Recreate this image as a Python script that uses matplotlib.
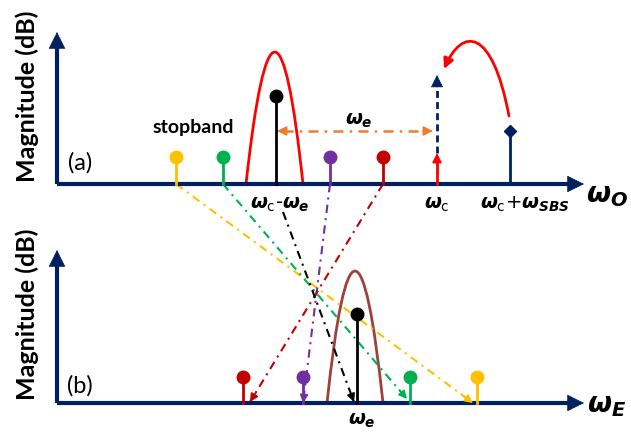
import matplotlib.pyplot as plt
from matplotlib.path import Path
from matplotlib.patches import PathPatch, FancyArrowPatch

plt.rcParams['mathtext.fontset'] = 'custom'
plt.rcParams['mathtext.it'] = 'DejaVu Sans:italic:bold'
plt.rcParams['mathtext.rm'] = 'DejaVu Sans'
plt.rcParams['mathtext.bf'] = 'DejaVu Sans:bold'

navy = '#002060'

# schematic positions (pixel space of the 631x438 drawing)
tone_colors = ['#FFC000', '#00B050', '#7030A0', '#C00000']
top_tone_x = [176, 223, 330, 383]
bottom_tone_x = [477, 410, 303, 243]
map_end_x = [473, 407, 303, 250]
map_end_y = [403, 399, 403, 402]
top_base, bottom_base = 184, 403
tone_head_top, tone_head_bottom = 157, 377

top_peak = (246, 275, 303, 52)      # left, center, right, peak
bottom_peak = (327, 355, 383, 271)
signal_top = (276, 96)
signal_bottom = (357, 314)
carrier_x, carrier_arrow_top, carrier_dash_top = 437, 153, 75
sbs_x, sbs_top = 510, 131

fig = plt.figure(figsize=(6.31, 4.38), dpi=100)
ax = fig.add_axes([0, 0, 1, 1])
ax.set_xlim(0, 631)
ax.set_ylim(438, 0)
ax.axis('off')


def head(x0, y0, x1, y1, color, scale=13):
    ax.annotate('', xy=(x1, y1), xytext=(x0, y0),
                arrowprops=dict(arrowstyle='-|>', color=color, lw=1.2,
                                mutation_scale=scale, shrinkA=0, shrinkB=0))


def dashdot(x0, y0, x1, y1, color, arrow_end=True):
    ax.plot([x0, x1], [y0, y1], color=color, lw=1.5,
            dashes=(4, 2.5, 1, 2.5), solid_capstyle='butt')
    if arrow_end:
        f = 0.04
        head(x1 - (x1 - x0) * f, y1 - (y1 - y0) * f, x1, y1, color, 12)


def axes_arrows(base, top):
    ax.plot([57, 570], [base, base], color=navy, lw=3, solid_capstyle='butt')
    ax.plot([57, 57], [base, top + 14], color=navy, lw=3, solid_capstyle='butt')
    ax.annotate('', xy=(584, base), xytext=(560, base),
                arrowprops=dict(arrowstyle='-|>', color=navy, lw=0.5,
                                mutation_scale=28, shrinkA=0, shrinkB=0))
    ax.annotate('', xy=(57, top), xytext=(57, top + 24),
                arrowprops=dict(arrowstyle='-|>', color=navy, lw=0.5,
                                mutation_scale=28, shrinkA=0, shrinkB=0))


def hump(spec, base, color):
    left, center, right, peak = spec
    ctrl = 2 * peak - base
    p = Path([(left, base), (center, ctrl), (right, base)],
             [Path.MOVETO, Path.CURVE3, Path.CURVE3])
    ax.add_patch(PathPatch(p, fill=False, edgecolor=color, lw=2))


# mapping lines (drawn first, under everything)
for x0, x1, y1, c in zip(top_tone_x, map_end_x, map_end_y, tone_colors):
    dashdot(x0, top_base, x1, y1, c)
dashdot(283, 212, 354, 402, 'black')

axes_arrows(top_base, 32)
axes_arrows(bottom_base, 250)

# top panel
hump(top_peak, top_base, '#FF0000')
for x, c in zip(top_tone_x, tone_colors):
    ax.plot([x, x], [top_base, tone_head_top], color=c, lw=2)
    ax.plot(x, tone_head_top, 'o', color=c, ms=9)
ax.plot([signal_top[0]] * 2, [top_base, signal_top[1]], color='black', lw=2)
ax.plot(*signal_top, 'o', color='black', ms=9)

# carrier
ax.plot([carrier_x, carrier_x], [top_base, carrier_arrow_top + 8], color='#FF0000', lw=2)
head(carrier_x, carrier_arrow_top + 10, carrier_x, carrier_arrow_top, '#FF0000', 14)
ax.plot([carrier_x, carrier_x], [carrier_arrow_top, carrier_dash_top + 10], color=navy,
        lw=2, dashes=(2.5, 1.5))
ax.annotate('', xy=(carrier_x, carrier_dash_top), xytext=(carrier_x, carrier_dash_top + 12),
            arrowprops=dict(arrowstyle='-|>', color=navy, lw=0.5,
                            mutation_scale=20, shrinkA=0, shrinkB=0))

# SBS pump
ax.plot([sbs_x, sbs_x], [top_base, sbs_top], color=navy, lw=2)
ax.plot(sbs_x, sbs_top, 'D', color=navy, ms=6.5)
curve = Path([(509, 116), (492, 26), (462, 28), (444, 69)],
             [Path.MOVETO, Path.CURVE4, Path.CURVE4, Path.CURVE4])
ax.add_patch(FancyArrowPatch(path=curve, arrowstyle='-|>', color='#FF0000', lw=2,
                             mutation_scale=15))

# omega_e spacing arrow
ax.plot([283, 427], [131, 131], color='#ED7D31', lw=1.8, dashes=(4, 2.5, 1, 2.5))
head(287, 131, 277, 131, '#ED7D31', 14)
head(423, 131, 433, 131, '#ED7D31', 14)

# bottom panel
hump(bottom_peak, bottom_base, '#A0403C')
for x, c in zip(bottom_tone_x, tone_colors):
    ax.plot([x, x], [bottom_base, tone_head_bottom], color=c, lw=2)
    ax.plot(x, tone_head_bottom, 'o', color=c, ms=9)
ax.plot([signal_bottom[0]] * 2, [bottom_base, signal_bottom[1]], color='black', lw=2)
ax.plot(*signal_bottom, 'o', color='black', ms=9)

# text
lab = dict(ha='center', va='center', fontsize=14)
ax.text(280, 204, r'$\omega_{\mathrm{c}}$-$\omega_e$', **lab)
ax.text(437, 204, r'$\omega_{\mathrm{c}}$', **lab)
ax.text(525, 204, r'$\omega_{\mathrm{c}}$+$\omega_{SBS}$', **lab)
ax.text(359, 121, r'$\omega_e$', **lab)
ax.text(362, 420, r'$\omega_e$', **lab)
ax.text(607, 195, r'$\omega_O$', ha='center', va='center', fontsize=20)
ax.text(607, 405, r'$\omega_E$', ha='center', va='center', fontsize=20)
ax.text(193, 128, 'stopband', ha='center', va='center', fontsize=14,
        fontweight='bold', family='Lato')
ax.text(80, 163, '(a)', ha='center', va='center', fontsize=17, family='Lato')
ax.text(80, 386, '(b)', ha='center', va='center', fontsize=17, family='Lato')
for yc in (96, 314):
    ax.text(27, yc, 'Magnitude (dB)', rotation=90, ha='center', va='center',
            fontsize=18, fontweight='bold', family='Lato')

fig.savefig('out.png', dpi=100)
